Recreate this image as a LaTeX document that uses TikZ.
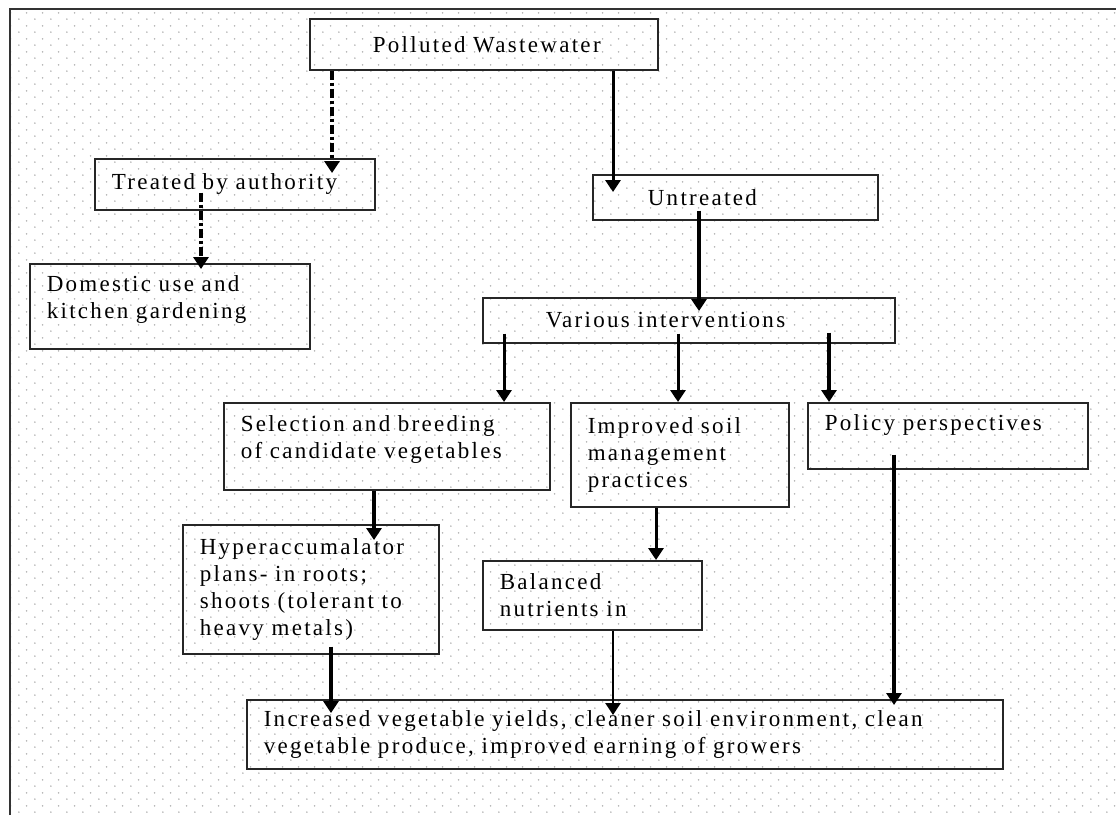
\documentclass[tikz,border=0pt]{standalone}
\usepackage{fontspec}
\setmainfont[LetterSpace=10]{Liberation Serif}
\usetikzlibrary{arrows.meta,patterns}

\newcommand{\boxfont}{\fontsize{23pt}{27pt}\selectfont}

% faint staggered dots of the page background
\pgfdeclarepatternformonly{bgdots}{\pgfpointorigin}{\pgfpoint{15.67pt}{12.67pt}}{\pgfpoint{15.67pt}{12.67pt}}{%
  \pgfpathcircle{\pgfpoint{3pt}{3pt}}{0.9pt}%
  \pgfpathcircle{\pgfpoint{10.8pt}{9.3pt}}{0.9pt}%
  \pgfusepath{fill}}

\begin{document}
\begin{tikzpicture}[x=1pt,y=-1pt,
  box/.style={draw=black!85, line width=1.6pt, anchor=north west, align=left,
    inner xsep=17pt, inner ysep=0pt, font=\boxfont},
  arr/.style={-{Triangle[width=15pt,length=12pt]}, line width=3pt},
  thickarr/.style={arr, line width=4pt},
  dd/.style={arr, line width=3.5pt, dash pattern=on 9pt off 3pt on 3pt off 3pt}]
\useasboundingbox (0,0) rectangle (1116,815);
\fill[pattern=bgdots, pattern color=black!30] (10,9) rectangle (1116,815);
\draw[line width=2.5pt, black!80] (10,815) -- (10,9) -- (1116,9);

% boxes
\node[box, text width=314pt, minimum height=51pt] (pw) at (309,18) {\hspace*{46pt}Polluted Wastewater};
\node[box, text width=246pt, minimum height=51pt] (tr) at (94,158) {Treated by authority};
\node[box, text width=246pt, minimum height=85pt, text depth=46pt] (dom) at (29,263) {Domestic use and\\kitchen gardening};
\node[box, text width=251pt, minimum height=45pt] (unt) at (592,174) {\hspace*{38pt}Untreated};
\node[box, text width=378pt, minimum height=45pt] (var) at (482,297) {\hspace*{46pt}Various interventions};
\node[box, text width=292pt, minimum height=87pt, text depth=46pt] (sel) at (223,402) {Selection and breeding\\of candidate vegetables};
\node[box, text width=184pt, minimum height=104pt] (soil) at (570,402) {Improved soil\\management\\practices};
\node[box, text width=246pt, minimum height=66pt, text depth=27pt] (pol) at (807,402) {Policy perspectives};
\node[box, text width=222pt, minimum height=129pt] (hyp) at (182,524) {Hyperaccumalator\\plans- in roots;\\shoots (tolerant to\\heavy metals)};
\node[box, text width=185pt, minimum height=69pt] (bal) at (482,560) {Balanced\\nutrients in};
\node[box, text width=722pt, minimum height=69pt] (fin) at (246,699) {Increased vegetable yields, cleaner soil environment, clean\\vegetable produce, improved earning of growers};

% connectors
\draw[dd] ([xshift=23pt]pw.south west) -- ([xshift=238pt,yshift=-15pt]tr.north west);
\draw[dd] ([xshift=107pt,yshift=18pt]tr.south west) -- ([xshift=172pt,yshift=-6pt]dom.north west);
\draw[arr] ([xshift=304pt]pw.south west) -- ([xshift=21pt,yshift=-18pt]unt.north west);
\draw[thickarr] ([xshift=107pt,yshift=10pt]unt.south west) -- ([xshift=217pt,yshift=-14pt]var.north west);
\draw[arr] ([xshift=22pt,yshift=10pt]var.south west) -- ([xshift=281pt]sel.north west);
\draw[arr] ([xshift=196pt,yshift=10pt]var.south west) -- ([xshift=108pt]soil.north west);
\draw[thickarr] ([xshift=347pt,yshift=11pt]var.south west) -- ([xshift=22pt]pol.north west);
\draw[thickarr] ([xshift=151pt]sel.south west) -- ([xshift=192pt,yshift=-16pt]hyp.north west);
\draw[arr] ([xshift=86pt]soil.south west) -- ([xshift=174pt]bal.north west);
\draw[thickarr] ([xshift=149pt,yshift=8pt]hyp.south west) -- ([xshift=85pt,yshift=-14pt]fin.north west);
\draw[arr, line width=2.5pt] ([xshift=131pt]bal.south west) -- ([xshift=367pt,yshift=-16pt]fin.north west);
\draw[thickarr] ([xshift=87pt,yshift=15pt]pol.south west) -- ([xshift=648pt,yshift=-6pt]fin.north west);
\end{tikzpicture}
\end{document}
